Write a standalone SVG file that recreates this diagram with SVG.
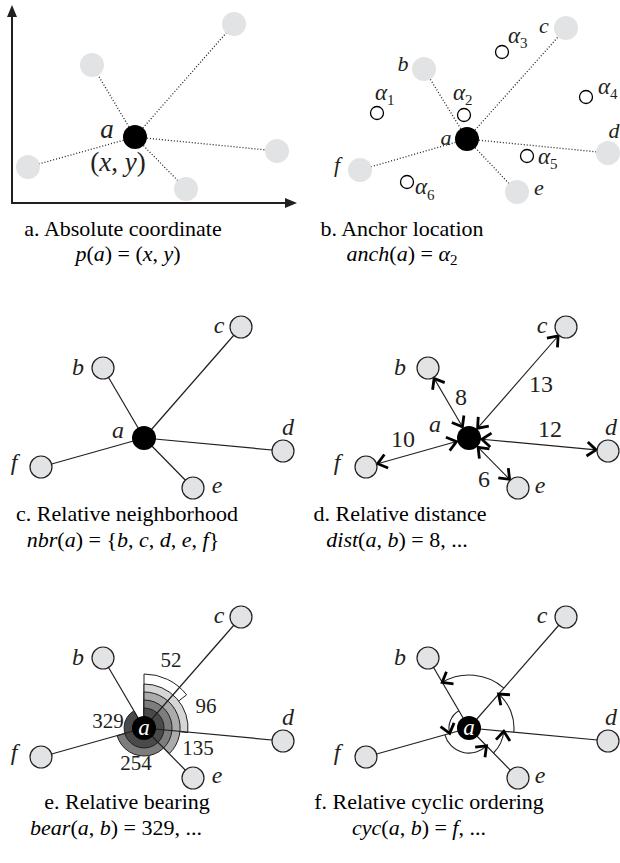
<svg xmlns="http://www.w3.org/2000/svg" width="620" height="863" viewBox="0 0 620 863">
<style>
.lbl{font-family:"Liberation Serif",serif;font-style:italic;font-size:24px;text-anchor:middle;fill:#231f20}
.num{font-family:"Liberation Serif",serif;font-size:24px;text-anchor:middle;fill:#231f20}
.cap{font-family:"Liberation Serif",serif;font-size:22px;text-anchor:middle;fill:#000}
.i{font-style:italic}
.gn{fill:#e2e3e4;stroke:#231f20;stroke-width:1.2}
.gn0{fill:#e2e3e4}
.bn{fill:#000}
.edge{stroke:#231f20;stroke-width:1.2;fill:none}
.dot{stroke:#231f20;stroke-width:1.3;stroke-dasharray:1 2;fill:none}
.anc{fill:#fff;stroke:#000;stroke-width:1.3}
.sec{stroke:#231f20;stroke-width:1}
.arr{stroke:#231f20;stroke-width:1.1;fill:none;marker-start:url(#v);marker-end:url(#v)}
.cyc{stroke:#231f20;stroke-width:1.1;fill:none;marker-end:url(#v)}
</style>
<defs>
<marker id="v" viewBox="-13 -10 15 20" markerWidth="15" markerHeight="20" refX="0" refY="0" orient="auto-start-reverse" markerUnits="userSpaceOnUse" overflow="visible">
<path d="M-9,-7 L0,0 L-9,7" fill="none" stroke="#000" stroke-width="2.8"/>
</marker>
<marker id="tri" viewBox="0 -5 12 10" markerWidth="12" markerHeight="10" refX="10" refY="0" orient="auto" markerUnits="userSpaceOnUse">
<path d="M0,-5 L12,0 L0,5 Z" fill="#231f20"/>
</marker>
</defs>

<!-- Panel a -->
<g id="panel-a">
<g id="a-axes">
<path d="M12,203 V7" stroke="#231f20" stroke-width="2" fill="none" marker-end="url(#tri)"/>
<path d="M11,203 H295" stroke="#231f20" stroke-width="2" fill="none" marker-end="url(#tri)"/>
</g>
<g id="a-connectors">
<line class="dot" x1="135" y1="137" x2="234" y2="24"/>
<line class="dot" x1="135" y1="137" x2="92" y2="65"/>
<line class="dot" x1="135" y1="137" x2="277" y2="151"/>
<line class="dot" x1="135" y1="137" x2="28" y2="167"/>
<line class="dot" x1="135" y1="137" x2="186" y2="189"/>
</g>
<g id="a-n1"><circle class="gn0" cx="234" cy="24" r="12"/></g>
<g id="a-n2"><circle class="gn0" cx="92" cy="65" r="12"/></g>
<g id="a-n3"><circle class="gn0" cx="277" cy="151" r="12"/></g>
<g id="a-n4"><circle class="gn0" cx="28" cy="167" r="12"/></g>
<g id="a-n5"><circle class="gn0" cx="186" cy="189" r="12"/></g>
<g id="a-a"><circle class="bn" cx="135" cy="137" r="12"/>
<text class="lbl" x="107" y="138" style="font-size:27px">a</text>
<text class="num" x="118" y="171" style="font-size:27px">(<tspan class="i">x</tspan>, <tspan class="i">y</tspan>)</text>
</g>
<text class="cap" x="123" y="236">a. Absolute coordinate</text>
<text class="cap" x="128" y="261"><tspan class="i">p</tspan>(<tspan class="i">a</tspan>) = (<tspan class="i">x</tspan>, <tspan class="i">y</tspan>)</text>
</g>

<!-- Panel b -->
<g id="panel-b">
<g id="b-connectors">
<line class="dot" x1="467" y1="139" x2="424" y2="69"/>
<line class="dot" x1="467" y1="139" x2="566" y2="28"/>
<line class="dot" x1="467" y1="139" x2="608" y2="153"/>
<line class="dot" x1="467" y1="139" x2="360" y2="170"/>
<line class="dot" x1="467" y1="139" x2="517" y2="192"/>
</g>
<g id="b-b"><circle class="gn0" cx="424" cy="69" r="12"/><text class="lbl" x="403" y="71" style="font-size:22px">b</text></g>
<g id="b-c"><circle class="gn0" cx="566" cy="28" r="12"/><text class="lbl" x="544" y="33" style="font-size:22px">c</text></g>
<g id="b-d"><circle class="gn0" cx="608" cy="153" r="12"/><text class="lbl" x="614" y="138" style="font-size:22px">d</text></g>
<g id="b-f"><circle class="gn0" cx="360" cy="170" r="12"/><text class="lbl" x="337" y="172" style="font-size:22px">f</text></g>
<g id="b-e"><circle class="gn0" cx="517" cy="192" r="12"/><text class="lbl" x="539" y="195" style="font-size:22px">e</text></g>
<g id="b-a"><circle class="bn" cx="467" cy="139" r="12"/><text class="lbl" x="446" y="145" style="font-size:22px">a</text></g>
<g id="b-alpha1"><circle class="anc" cx="377" cy="113" r="6.5"/><text class="lbl" x="375" y="100" style="font-size:23px;text-anchor:start">α<tspan style="font-style:normal;font-size:15px" dy="5">1</tspan></text></g>
<g id="b-alpha2"><circle class="anc" cx="464" cy="115" r="6.5"/><text class="lbl" x="453" y="100" style="font-size:23px;text-anchor:start">α<tspan style="font-style:normal;font-size:15px" dy="5">2</tspan></text></g>
<g id="b-alpha3"><circle class="anc" cx="502" cy="52" r="6.5"/><text class="lbl" x="508" y="43" style="font-size:23px;text-anchor:start">α<tspan style="font-style:normal;font-size:15px" dy="5">3</tspan></text></g>
<g id="b-alpha4"><circle class="anc" cx="586" cy="97" r="6.5"/><text class="lbl" x="598" y="94" style="font-size:23px;text-anchor:start">α<tspan style="font-style:normal;font-size:15px" dy="5">4</tspan></text></g>
<g id="b-alpha5"><circle class="anc" cx="527" cy="156" r="6.5"/><text class="lbl" x="538" y="164" style="font-size:23px;text-anchor:start">α<tspan style="font-style:normal;font-size:15px" dy="5">5</tspan></text></g>
<g id="b-alpha6"><circle class="anc" cx="407" cy="182" r="6.5"/><text class="lbl" x="415" y="194" style="font-size:23px;text-anchor:start">α<tspan style="font-style:normal;font-size:15px" dy="6">6</tspan></text></g>
<text class="cap" x="402" y="236">b. Anchor location</text>
<text class="cap" x="402" y="261"><tspan class="i">anch</tspan>(<tspan class="i">a</tspan>) = <tspan class="i">α</tspan><tspan style="font-size:15px" dy="4">2</tspan></text>
</g>

<!-- Panel c -->
<g id="panel-c">
<g id="c-connectors">
<line class="edge" x1="144" y1="438" x2="103" y2="368"/>
<line class="edge" x1="144" y1="438" x2="241" y2="327"/>
<line class="edge" x1="144" y1="438" x2="283" y2="451"/>
<line class="edge" x1="144" y1="438" x2="193" y2="488"/>
<line class="edge" x1="144" y1="438" x2="41" y2="467"/>
</g>
<g id="c-b"><circle class="gn" cx="103" cy="368" r="11"/><text class="lbl" x="78" y="375">b</text></g>
<g id="c-c"><circle class="gn" cx="241" cy="327" r="11"/><text class="lbl" x="219" y="333">c</text></g>
<g id="c-d"><circle class="gn" cx="283" cy="451" r="11"/><text class="lbl" x="288" y="435">d</text></g>
<g id="c-e"><circle class="gn" cx="193" cy="488" r="11"/><text class="lbl" x="217" y="493">e</text></g>
<g id="c-f"><circle class="gn" cx="41" cy="467" r="11"/><text class="lbl" x="14" y="470">f</text></g>
<g id="c-a"><circle class="bn" cx="144" cy="438" r="12"/><text class="lbl" x="118" y="438">a</text></g>
<text class="cap" x="127" y="521">c. Relative neighborhood</text>
<text class="cap" x="123" y="547"><tspan class="i">nbr</tspan>(<tspan class="i">a</tspan>) = {<tspan class="i">b</tspan>, <tspan class="i">c</tspan>, <tspan class="i">d</tspan>, <tspan class="i">e</tspan>, <tspan class="i">f</tspan>}</text>
</g>

<!-- Panel d -->
<g id="panel-d">
<g id="d-connectors">
<line class="arr" x1="462.4" y1="426.8" x2="434.1" y2="378.4"/>
<line class="arr" x1="477.6" y1="428.2" x2="558.1" y2="336.0"/>
<line class="arr" x1="481.9" y1="439.2" x2="596.1" y2="449.9"/>
<line class="arr" x1="478.1" y1="447.3" x2="509.6" y2="479.4"/>
<line class="arr" x1="456.5" y1="441.5" x2="377.6" y2="463.7"/>
</g>
<g id="d-b"><circle class="gn" cx="428" cy="368" r="11"/><text class="lbl" x="400" y="375">b</text></g>
<g id="d-c"><circle class="gn" cx="566" cy="327" r="11"/><text class="lbl" x="542" y="333">c</text></g>
<g id="d-d"><circle class="gn" cx="608" cy="451" r="11"/><text class="lbl" x="611" y="435">d</text></g>
<g id="d-e"><circle class="gn" cx="518" cy="488" r="11"/><text class="lbl" x="540" y="493">e</text></g>
<g id="d-f"><circle class="gn" cx="366" cy="467" r="11"/><text class="lbl" x="337" y="470">f</text></g>
<g id="d-a"><circle class="bn" cx="469" cy="438" r="12"/><text class="lbl" x="435" y="432">a</text></g>
<g id="d-labels">
<text class="num" x="461" y="405">8</text>
<text class="num" x="541" y="392">13</text>
<text class="num" x="550" y="437">12</text>
<text class="num" x="403" y="447">10</text>
<text class="num" x="484" y="487">6</text>
</g>
<text class="cap" x="400" y="521">d. Relative distance</text>
<text class="cap" x="397" y="547"><tspan class="i">dist</tspan>(<tspan class="i">a</tspan>, <tspan class="i">b</tspan>) = 8, ...</text>
</g>

<!-- Panel e -->
<g id="panel-e">
<g id="e-sectors">
<path class="sec" fill="#ffffff" d="M144,728 L144,674 A54,54 0 0 1 186.6,694.8 Z"/>
<path class="sec" fill="#d6d6d6" d="M144,728 L144,684 A44,44 0 0 1 187.8,732.6 Z"/>
<path class="sec" fill="#ababab" d="M144,728 L144,692 A36,36 0 0 1 169.5,753.5 Z"/>
<path class="sec" fill="#7d7d7d" d="M144,728 L144,700 A28,28 0 1 1 117.1,735.7 Z"/>
<path class="sec" fill="#4a4a4a" d="M144,728 L144,708 A20,20 0 1 1 133.7,710.9 Z"/>
</g>
<g id="e-connectors">
<line class="edge" x1="144" y1="728" x2="103" y2="658"/>
<line class="edge" x1="144" y1="728" x2="241" y2="617"/>
<line class="edge" x1="144" y1="728" x2="283" y2="741"/>
<line class="edge" x1="144" y1="728" x2="193" y2="778"/>
<line class="edge" x1="144" y1="728" x2="41" y2="757"/>
</g>
<g id="e-b"><circle class="gn" cx="103" cy="658" r="11"/><text class="lbl" x="78" y="665">b</text></g>
<g id="e-c"><circle class="gn" cx="241" cy="617" r="11"/><text class="lbl" x="219" y="623">c</text></g>
<g id="e-d"><circle class="gn" cx="283" cy="741" r="11"/><text class="lbl" x="288" y="725">d</text></g>
<g id="e-e"><circle class="gn" cx="193" cy="778" r="11"/><text class="lbl" x="217" y="783">e</text></g>
<g id="e-f"><circle class="gn" cx="41" cy="757" r="11"/><text class="lbl" x="14" y="760">f</text></g>
<g id="e-a"><circle class="bn" cx="144" cy="728" r="12"/><text class="lbl" x="144" y="735" style="fill:#fff;font-size:23px">a</text></g>
<g id="e-labels">
<text class="num" x="171" y="667" style="font-size:21px">52</text>
<text class="num" x="206" y="713" style="font-size:21px">96</text>
<text class="num" x="198" y="755" style="font-size:21px">135</text>
<text class="num" x="136" y="770" style="font-size:21px">254</text>
<text class="num" x="108" y="728" style="font-size:21px">329</text>
</g>
<text class="cap" x="127" y="809">e. Relative bearing</text>
<text class="cap" x="116" y="835"><tspan class="i">bear</tspan>(<tspan class="i">a</tspan>, <tspan class="i">b</tspan>) = 329, ...</text>
</g>

<!-- Panel f -->
<g id="panel-f">
<g id="f-connectors">
<line class="edge" x1="469" y1="728" x2="428" y2="658"/>
<line class="edge" x1="469" y1="728" x2="566" y2="617"/>
<line class="edge" x1="469" y1="728" x2="608" y2="741"/>
<line class="edge" x1="469" y1="728" x2="518" y2="778"/>
<line class="edge" x1="469" y1="728" x2="366" y2="757"/>
<path class="cyc" d="M458.9,710.8 A20,20 0 0 0 449.7,733.4"/>
<path class="cyc" d="M444.9,734.8 A25,25 0 0 0 486.5,745.9"/>
<path class="cyc" d="M493.5,753.0 A35,35 0 0 0 503.8,731.3"/>
<path class="cyc" d="M513.8,732.2 A45,45 0 0 0 498.6,694.1"/>
<path class="cyc" d="M503.9,688.1 A53,53 0 0 0 442.2,682.3"/>
</g>
<g id="f-b"><circle class="gn" cx="428" cy="658" r="11"/><text class="lbl" x="400" y="665">b</text></g>
<g id="f-c"><circle class="gn" cx="566" cy="617" r="11"/><text class="lbl" x="542" y="623">c</text></g>
<g id="f-d"><circle class="gn" cx="608" cy="741" r="11"/><text class="lbl" x="611" y="725">d</text></g>
<g id="f-e"><circle class="gn" cx="518" cy="778" r="11"/><text class="lbl" x="540" y="783">e</text></g>
<g id="f-f"><circle class="gn" cx="366" cy="757" r="11"/><text class="lbl" x="337" y="760">f</text></g>
<g id="f-a"><circle class="bn" cx="469" cy="728" r="12"/><text class="lbl" x="469" y="735" style="fill:#fff;font-size:23px">a</text></g>
<text class="cap" x="429" y="809">f. Relative cyclic ordering</text>
<text class="cap" x="419" y="835"><tspan class="i">cyc</tspan>(<tspan class="i">a</tspan>, <tspan class="i">b</tspan>) = <tspan class="i">f</tspan>, ...</text>
</g>
</svg>
